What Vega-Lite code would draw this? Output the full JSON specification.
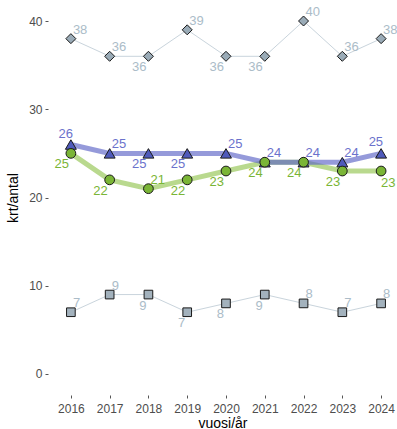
{
  "$schema": "https://vega.github.io/schema/vega-lite/v6.json",
  "width": 349,
  "height": 395,
  "padding": {"left": 6, "top": 0, "right": 0, "bottom": 0},
  "autosize": {"type": "pad"},
  "background": "white",
  "config": {
    "view": {"stroke": null},
    "font": "Liberation Sans",
    "axis": {"grid": false, "domain": false, "tickColor": "#555555", "tickSize": 3, "labelColor": "#4d4d4d", "labelFontSize": 12, "titleFontSize": 14, "titleFontWeight": "normal", "titleColor": "#000000"}
  },
  "data": {"values": [
    {"series": "A", "year": 2016, "value": 38, "side": "up"},
    {"series": "A", "year": 2017, "value": 36, "side": "up"},
    {"series": "A", "year": 2018, "value": 36, "side": "down"},
    {"series": "A", "year": 2019, "value": 39, "side": "up"},
    {"series": "A", "year": 2020, "value": 36, "side": "down"},
    {"series": "A", "year": 2021, "value": 36, "side": "down"},
    {"series": "A", "year": 2022, "value": 40, "side": "up"},
    {"series": "A", "year": 2023, "value": 36, "side": "up"},
    {"series": "A", "year": 2024, "value": 38, "side": "up"},
    {"series": "B", "year": 2016, "value": 26, "side": "upleft"},
    {"series": "B", "year": 2017, "value": 25, "side": "up"},
    {"series": "B", "year": 2018, "value": 25, "side": "down"},
    {"series": "B", "year": 2019, "value": 25, "side": "down"},
    {"series": "B", "year": 2020, "value": 25, "side": "up"},
    {"series": "B", "year": 2021, "value": 24, "side": "up"},
    {"series": "B", "year": 2022, "value": 24, "side": "up"},
    {"series": "B", "year": 2023, "value": 24, "side": "up"},
    {"series": "B", "year": 2024, "value": 25, "side": "upleft"},
    {"series": "C", "year": 2016, "value": 25, "side": "down"},
    {"series": "C", "year": 2017, "value": 22, "side": "down"},
    {"series": "C", "year": 2018, "value": 21, "side": "up"},
    {"series": "C", "year": 2019, "value": 22, "side": "down"},
    {"series": "C", "year": 2020, "value": 23, "side": "down"},
    {"series": "C", "year": 2021, "value": 24, "side": "down"},
    {"series": "C", "year": 2022, "value": 24, "side": "down"},
    {"series": "C", "year": 2023, "value": 23, "side": "down"},
    {"series": "C", "year": 2024, "value": 23, "side": "downright"},
    {"series": "D", "year": 2016, "value": 7, "side": "up"},
    {"series": "D", "year": 2017, "value": 9, "side": "up"},
    {"series": "D", "year": 2018, "value": 9, "side": "down"},
    {"series": "D", "year": 2019, "value": 7, "side": "down"},
    {"series": "D", "year": 2020, "value": 8, "side": "down"},
    {"series": "D", "year": 2021, "value": 9, "side": "down"},
    {"series": "D", "year": 2022, "value": 8, "side": "up"},
    {"series": "D", "year": 2023, "value": 7, "side": "up"},
    {"series": "D", "year": 2024, "value": 8, "side": "up"}
  ]},
  "encoding": {
    "x": {"field": "year", "type": "quantitative", "title": "vuosi/år",
      "scale": {"domain": [2015.41, 2024.41], "nice": false, "zero": false},
      "axis": {"values": [2016, 2017, 2018, 2019, 2020, 2021, 2022, 2023, 2024], "format": "d", "labelPadding": 5, "titlePadding": 2, "titleFontSize": 14}},
    "y": {"field": "value", "type": "quantitative", "title": "krt/antal",
      "scale": {"domain": [-2.38, 42.38], "nice": false, "zero": false},
      "axis": {"values": [0, 10, 20, 30, 40], "labelPadding": 3, "titlePadding": 8}}
  },
  "layer": [
    {"transform": [{"filter": "datum.series == 'A' || datum.series == 'D'"}],
     "mark": {"type": "line", "strokeWidth": 1, "color": "#c9d4dc"},
     "encoding": {"detail": {"field": "series"}}},
    {"transform": [{"filter": "datum.series == 'C'"}],
     "mark": {"type": "line", "strokeWidth": 5, "color": "#a8cf72", "opacity": 0.8}},
    {"transform": [{"filter": "datum.series == 'B'"}],
     "mark": {"type": "line", "strokeWidth": 5, "color": "#5c64c6", "opacity": 0.65}},
    {"mark": {"type": "point", "filled": true, "stroke": "#1a1a1a", "strokeWidth": 1, "opacity": 1},
     "encoding": {
       "shape": {"field": "series", "type": "nominal", "legend": null,
         "scale": {"domain": ["A", "B", "C", "D"], "range": ["diamond", "triangle-up", "circle", "square"]}},
       "fill": {"field": "series", "type": "nominal", "legend": null,
         "scale": {"domain": ["A", "B", "C", "D"], "range": ["#9aabb7", "#4f5abb", "#7ab536", "#a3b2bd"]}},
       "size": {"field": "series", "type": "nominal", "legend": null,
         "scale": {"type": "ordinal", "domain": ["A", "B", "C", "D"], "range": [100, 120, 95, 75]}},
       "order": {"field": "series", "type": "nominal"}
     }},
    {"transform": [{"filter": "datum.side == 'up'"}],
     "mark": {"type": "text", "align": "left", "baseline": "alphabetic", "dx": 2, "dy": -5, "fontSize": 13},
     "encoding": {"text": {"field": "value"},
       "color": {"field": "series", "type": "nominal", "legend": null,
         "scale": {"domain": ["A", "B", "C", "D"], "range": ["#abbcc8", "#6b72cc", "#7ab536", "#abbcc8"]}}}},
    {"transform": [{"filter": "datum.side == 'upleft'"}],
     "mark": {"type": "text", "align": "right", "baseline": "alphabetic", "dx": 2, "dy": -7, "fontSize": 13},
     "encoding": {"text": {"field": "value"},
       "color": {"field": "series", "type": "nominal", "legend": null,
         "scale": {"domain": ["A", "B", "C", "D"], "range": ["#abbcc8", "#6b72cc", "#7ab536", "#abbcc8"]}}}},
    {"transform": [{"filter": "datum.side == 'down'"}],
     "mark": {"type": "text", "align": "right", "baseline": "top", "dx": -2, "dy": 5, "fontSize": 13},
     "encoding": {"text": {"field": "value"},
       "color": {"field": "series", "type": "nominal", "legend": null,
         "scale": {"domain": ["A", "B", "C", "D"], "range": ["#abbcc8", "#6b72cc", "#7ab536", "#abbcc8"]}}}},
    {"transform": [{"filter": "datum.side == 'downright'"}],
     "mark": {"type": "text", "align": "left", "baseline": "top", "dx": 0, "dy": 6, "fontSize": 13},
     "encoding": {"text": {"field": "value"},
       "color": {"field": "series", "type": "nominal", "legend": null,
         "scale": {"domain": ["A", "B", "C", "D"], "range": ["#abbcc8", "#6b72cc", "#7ab536", "#abbcc8"]}}}}
  ]
}
